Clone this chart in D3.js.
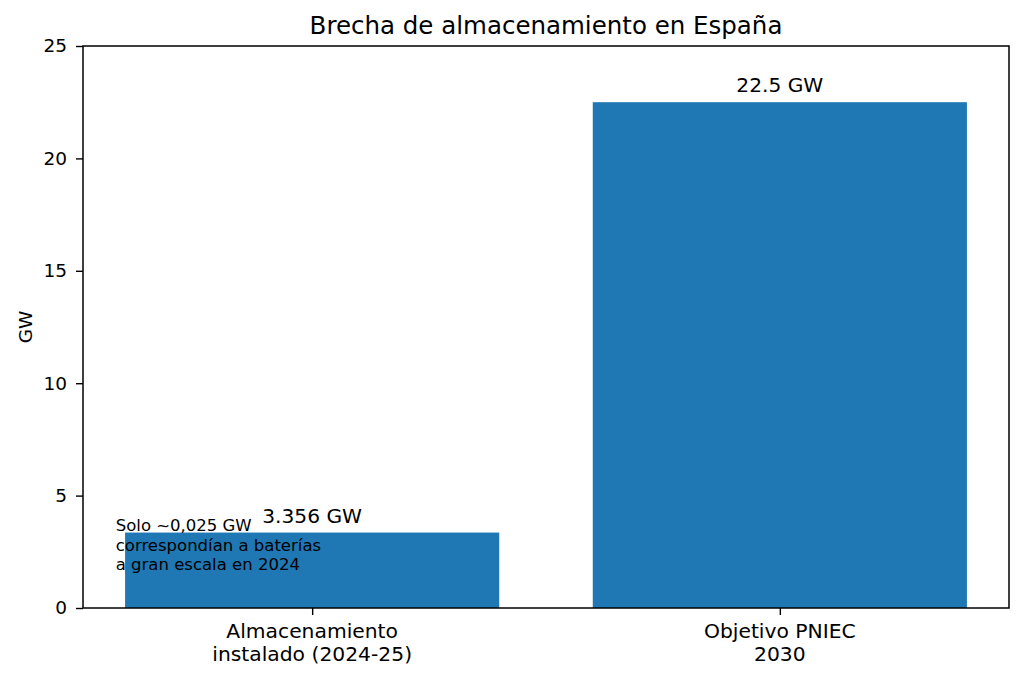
<!DOCTYPE html>
<html>
<head>
<meta charset="utf-8">
<script src="https://cdn.jsdelivr.net/npm/d3@7"></script>
<style>
  body { margin: 0; background: #fff; }
  svg { font-family: "DejaVu Sans", sans-serif; }
</style>
</head>
<body>
<div id="chart"></div>
<script>
// data
const categories = [["Almacenamiento", "instalado (2024-25)"], ["Objetivo PNIEC", "2030"]];
const values = [3.356, 22.5];
const valueLabels = ["3.356 GW", "22.5 GW"];
const yTicks = [0, 5, 10, 15, 20, 25];
const noteLines = ["Solo ~0,025 GW", "correspondían a baterías", "a gran escala en 2024"];
const notePos = [-0.42, 2.74]; // data coords (x index, GW)

const width = 1024, height = 680;
const margin = { left: 83, right: 15, top: 46, bottom: 72 };

const svg = d3.select("#chart").append("svg")
    .attr("width", width)
    .attr("height", height);

const x = d3.scaleLinear()
    .domain([-0.49, 1.49])
    .range([margin.left, width - margin.right]);
const y = d3.scaleLinear()
    .domain([0, 25])
    .range([height - margin.bottom, margin.top]);

const barW = 0.8;

// bars
svg.append("g")
    .selectAll("rect")
    .data(values)
    .join("rect")
    .attr("x", (d, i) => x(i - barW / 2))
    .attr("width", x(barW) - x(0))
    .attr("y", d => y(d))
    .attr("height", d => y(0) - y(d))
    .attr("fill", "#1f77b4");

// value labels
svg.append("g")
    .selectAll("text")
    .data(values)
    .join("text")
    .attr("x", (d, i) => x(i))
    .attr("y", d => y(d) - 10)
    .attr("text-anchor", "middle")
    .attr("font-size", "20.2px")
    .attr("fill", "#000")
    .text((d, i) => valueLabels[i]);

// note
svg.append("text")
    .attr("font-size", "16.5px")
    .attr("fill", "#000")
    .selectAll("tspan")
    .data(noteLines)
    .join("tspan")
    .attr("x", x(notePos[0]))
    .attr("y", (d, i) => y(notePos[1]) - 15 + i * 19.2)
    .text(d => d);

// y axis
const yAxis = svg.append("g")
    .attr("transform", `translate(${margin.left},0)`)
    .call(d3.axisLeft(y).tickValues(yTicks).tickSize(7).tickPadding(9).tickFormat(d3.format("d")));
yAxis.select(".domain").remove();
yAxis.selectAll(".tick line").attr("stroke", "#000").attr("stroke-width", 1.4);
yAxis.selectAll(".tick text")
    .attr("font-size", "18.5px")
    .attr("font-family", "DejaVu Sans, sans-serif")
    .attr("fill", "#000");

// x axis
const xAxis = svg.append("g")
    .attr("transform", `translate(0,${y(0)})`)
    .call(d3.axisBottom(x).tickValues([0, 1]).tickSize(7).tickFormat(""));
xAxis.select(".domain").remove();
xAxis.selectAll(".tick line").attr("stroke", "#000").attr("stroke-width", 1.4);

svg.append("g")
    .selectAll("text")
    .data(categories)
    .join("text")
    .attr("text-anchor", "middle")
    .attr("font-size", "20.3px")
    .attr("fill", "#000")
    .each(function (d, i) {
        d3.select(this).selectAll("tspan")
            .data(d)
            .join("tspan")
            .attr("x", x(i))
            .attr("y", (t, j) => y(0) + 30 + j * 22.5)
            .text(t => t);
    });

// frame
svg.append("rect")
    .attr("x", margin.left)
    .attr("y", margin.top)
    .attr("width", width - margin.left - margin.right)
    .attr("height", height - margin.top - margin.bottom)
    .attr("fill", "none")
    .attr("stroke", "#000")
    .attr("stroke-width", 1.5);

// title
svg.append("text")
    .attr("x", (margin.left + width - margin.right) / 2)
    .attr("y", 34)
    .attr("text-anchor", "middle")
    .attr("font-size", "24.5px")
    .attr("fill", "#000")
    .text("Brecha de almacenamiento en España");

// y label
svg.append("text")
    .attr("transform", `translate(32,${(margin.top + height - margin.bottom) / 2}) rotate(-90)`)
    .attr("text-anchor", "middle")
    .attr("font-size", "18.5px")
    .attr("fill", "#000")
    .text("GW");
</script>
</body>
</html>
